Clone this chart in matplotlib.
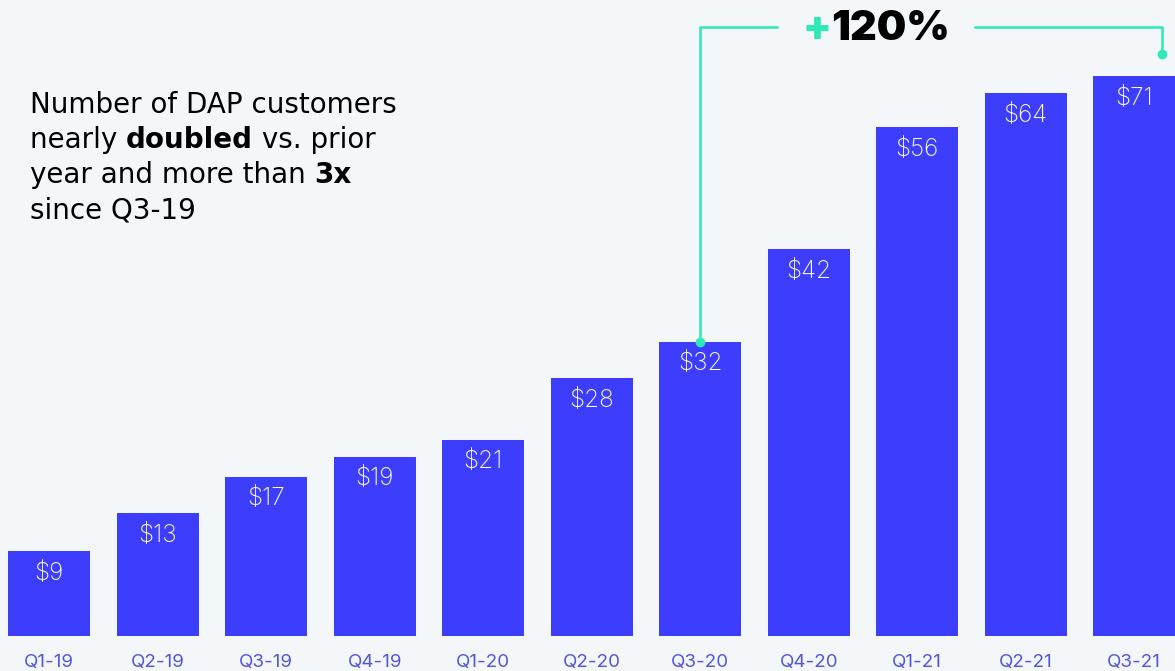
import matplotlib.pyplot as plt
import numpy as np

quarters = ['Q1-19', 'Q2-19', 'Q3-19', 'Q4-19', 'Q1-20', 'Q2-20',
            'Q3-20', 'Q4-20', 'Q1-21', 'Q2-21', 'Q3-21']
labels = [9, 13, 17, 19, 21, 28, 32, 42, 56, 64, 71]				# printed values
heights = [9, 13, 16.9, 19, 20.8, 27.3, 31.2, 41, 53.9, 57.5, 59.3]	# bar heights as drawn

bg = '#f3f7fa'
bar_c = '#3d3dfd'
teal = '#2ee8b6'
font = 'Inter'

W, H = 1175, 671
fig = plt.figure(figsize=(W/100, H/100), dpi=100, facecolor=bg)
ax = fig.add_axes([0, 35/H, 1, 636/H])
ax.set_facecolor(bg)

x = np.arange(len(quarters))
ax.bar(x, heights, width=0.756, color=bar_c, zorder=2)
ax.set_xlim(-0.4535, 10.376)
ax.set_ylim(0, 67.4)
for s in ax.spines.values():
	s.set_visible(False)
ax.set_yticks([])
ax.set_xticks(x, quarters)
ax.tick_params(axis='x', length=0, pad=13, labelsize=13.5, labelcolor='#5555dd')
for t in ax.get_xticklabels():
	t.set_family(font)

# value labels inside bars
for xi, h, v in zip(x, heights, labels):
	ax.annotate(f'${v}', (xi, h), xytext=(0, -16), textcoords='offset points',
				ha='center', va='center', color='white', fontsize=17.5, family=font,
				weight='light', zorder=3)

# +120% bracket from Q3-20 to Q3-21
y_line = 64.5
ax.plot([6, 6, 6.71], [heights[6], y_line, y_line], color=teal, lw=1.8, zorder=4, clip_on=False)
ax.plot([8.53, 10.26, 10.26], [y_line, y_line, 61.7], color=teal, lw=1.8, zorder=4, clip_on=False)
ax.plot([6, 10.26], [heights[6], 61.7], 'o', color=teal, ms=6, zorder=5, clip_on=False)

fig.canvas.draw()
r = fig.canvas.get_renderer()

def runs(parts, x0, y0, size, fam=font):
	# draw text pieces side by side, in figure pixels
	xp = x0
	for s, c, w in parts:
		t = fig.text(xp/W, 1 - y0/H, s, color=c, weight=w, fontsize=size,
					 family=fam, va='center', ha='left')
		xp += t.get_window_extent(r).width

plus = fig.text(0, 0, '+120%', fontsize=30, weight='black', family=font)
wbig = plus.get_window_extent(r).width
plus.remove()
runs([('+', teal, 'black'), ('120%', 'black', 'black')], 876 - wbig/2, 29, 30)

lines = [
	[('Number of DAP customers', 'black', 'normal')],
	[('nearly ', 'black', 'normal'), ('doubled', 'black', 'bold'), (' vs. prior', 'black', 'normal')],
	[('year and more than ', 'black', 'normal'), ('3x', 'black', 'bold')],
	[('since Q3-19', 'black', 'normal')],
]
for i, ln in enumerate(lines):
	runs(ln, 30, 105 + 35*i, 20, fam='DejaVu Sans')

fig.savefig('out.png', dpi=100, facecolor=bg)
